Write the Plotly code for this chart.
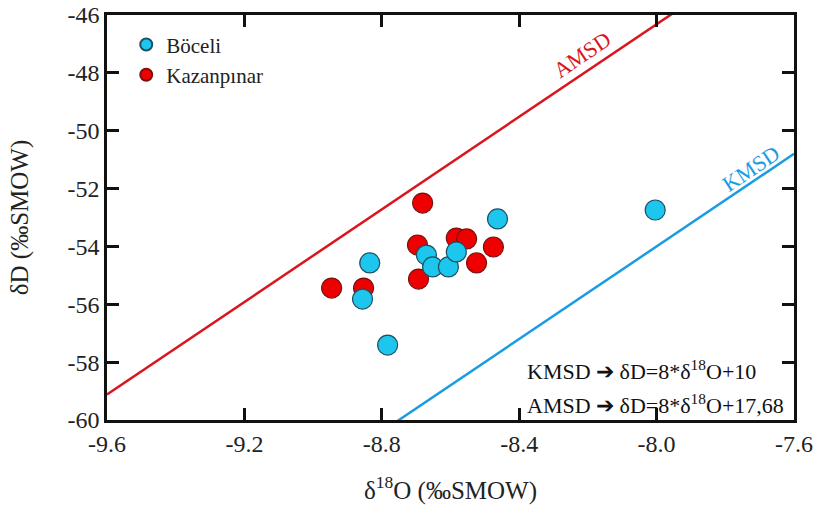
import plotly.graph_objects as go

# Data
boceli_x = [-8.856, -8.835, -8.783, -8.670, -8.652, -8.606, -8.583, -8.463, -8.004]
boceli_y = [-55.82, -54.57, -57.41, -54.30, -54.71, -54.71, -54.19, -53.05, -52.74]

kazan_x = [-8.946, -8.853, -8.681, -8.696, -8.693, -8.583, -8.553, -8.524, -8.475]
kazan_y = [-55.44, -55.44, -52.50, -53.95, -55.13, -53.71, -53.74, -54.57, -54.02]

line_x = [-9.6, -7.6]
kmsd_intercept = 10.0
amsd_intercept = 17.68
slope = 8.0

x_ticks = [-9.6, -9.2, -8.8, -8.4, -8.0, -7.6]
x_ticktext = ["-9.6", "-9.2", "-8.8", "-8.4", "-8.0", "-7.6"]
y_ticks = [-60, -58, -56, -54, -52, -50, -48, -46]
y_ticktext = ["-60", "-58", "-56", "-54", "-52", "-50", "-48", "-46"]

FONT = "Liberation Serif"
RED_LINE = "#D9161F"
BLUE_LINE = "#1B9CE2"

fig = go.Figure()

fig.add_trace(go.Scatter(x=line_x, y=[slope * v + amsd_intercept for v in line_x],
                         mode="lines", line=dict(color=RED_LINE, width=2.5),
                         showlegend=False, hoverinfo="skip"))
fig.add_trace(go.Scatter(x=line_x, y=[slope * v + kmsd_intercept for v in line_x],
                         mode="lines", line=dict(color=BLUE_LINE, width=2.5),
                         showlegend=False, hoverinfo="skip"))

fig.add_trace(go.Scatter(x=kazan_x, y=kazan_y, mode="markers", name="Kazanpınar",
                         marker=dict(size=20, color="#EE0000",
                                     line=dict(color="#7a1010", width=1.2))))
fig.add_trace(go.Scatter(x=boceli_x, y=boceli_y, mode="markers", name="Böceli",
                         marker=dict(size=20, color="#1DC6EC",
                                     line=dict(color="#1d4f66", width=1.2))))

fig.update_layout(
    width=818, height=514,
    margin=dict(l=107, r=24, t=15, b=94),
    paper_bgcolor="white", plot_bgcolor="white",
    font=dict(family=FONT, size=24, color="#222"),
    legend=dict(x=0.028, y=0.977, xanchor="left", yanchor="top",
                traceorder="reversed", font=dict(size=21),
                bgcolor="rgba(0,0,0,0)", itemsizing="constant",
                tracegroupgap=0, itemwidth=30),
    xaxis=dict(range=[-9.6, -7.5999], tickvals=x_ticks, ticktext=x_ticktext,
               ticks="inside", ticklen=12, tickwidth=2.5, tickcolor="#111",
               showline=True, linecolor="#111", linewidth=2.5, mirror="ticks",
               showgrid=False, zeroline=False, ticklabeloverflow="allow",
               automargin=False, tickfont=dict(size=24),
               title=dict(text="δ<sup>18</sup>O (‰SMOW)", font=dict(size=25), standoff=26)),
    yaxis=dict(range=[-60.0001, -45.9999], tickvals=y_ticks, ticktext=y_ticktext,
               ticks="inside", ticklen=12, tickwidth=2.5, tickcolor="#111",
               showline=True, linecolor="#111", linewidth=2.5, mirror="ticks",
               showgrid=False, zeroline=False, ticklabeloverflow="allow",
               automargin=False, tickfont=dict(size=24),
               title=dict(text="δD (‰SMOW)", font=dict(size=25), standoff=32)),
)

fig.add_annotation(x=-8.216, y=-47.35, text="AMSD", showarrow=False, textangle=-33.9,
                   font=dict(color=RED_LINE, size=22, family=FONT))
fig.add_annotation(x=-7.725, y=-51.3, text="KMSD", showarrow=False, textangle=-33.9,
                   font=dict(color=BLUE_LINE, size=22, family=FONT))

fig.add_annotation(xref="paper", yref="paper", x=0.608, y=0.083, xanchor="left",
                   text="KMSD ➔ δD=8*δ<sup>18</sup>O+10", showarrow=False,
                   font=dict(size=22, family=FONT, color="#111"))
fig.add_annotation(xref="paper", yref="paper", x=0.608, y=0.0, xanchor="left",
                   text="AMSD ➔ δD=8*δ<sup>18</sup>O+17,68", showarrow=False,
                   font=dict(size=22, family=FONT, color="#111"))

fig.write_html("out.html", config={"displayModeBar": False},
               post_script="document.body.style.margin='0';")
